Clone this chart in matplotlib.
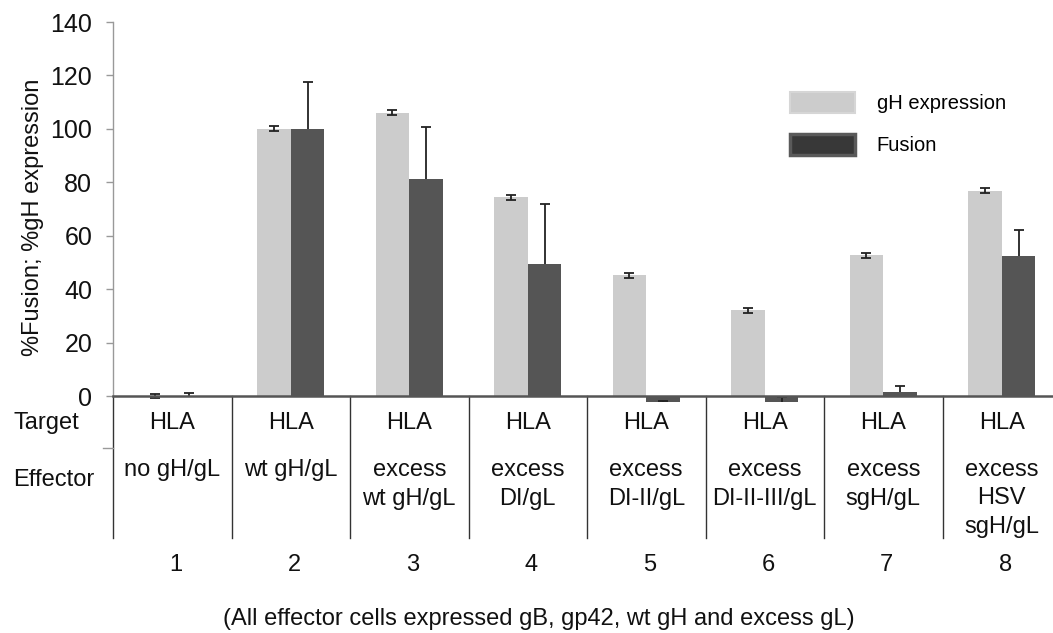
import matplotlib
matplotlib.use("Agg")
import matplotlib.pyplot as plt
import matplotlib.transforms as mtransforms
from matplotlib.patches import Patch
import numpy as np

plt.rcParams['font.family'] = ['Liberation Sans', 'DejaVu Sans']

# data
groups = ['1', '2', '3', '4', '5', '6', '7', '8']
targets = ['HLA'] * 8
effectors = [['no gH/gL'], ['wt gH/gL'], ['excess', 'wt gH/gL'], ['excess', 'DI/gL'],
             ['excess', 'DI-II/gL'], ['excess', 'DI-II-III/gL'], ['excess', 'sgH/gL'],
             ['excess', 'HSV', 'sgH/gL']]
gh_expr = [0.0, 100.1, 106.0, 74.4, 45.2, 32.1, 52.7, 76.8]
gh_err = [0.9, 0.9, 0.9, 1.0, 0.9, 0.9, 0.9, 0.9]
fusion = [0.0, 100.0, 81.1, 49.3, -2.4, -2.1, 1.4, 52.3]
fusion_err = [1.3, 17.6, 19.5, 22.5, 0.4, 1.7, 2.5, 9.7]

light = '#cccccc'
dark = '#555555'
ecol = '#222222'

fig = plt.figure(figsize=(10.53, 6.33), dpi=100)
# axes runs a little past the right edge, like the reference
ax = fig.add_axes([113 / 1053, 1 - 396 / 633, 948 / 1053, 374 / 633])

x = np.arange(len(groups)) + 0.5
w = 0.283
ax.bar(x - w / 2, gh_expr, w, color=light, clip_on=False, zorder=2)
ax.bar(x + w / 2, fusion, w, color=dark, clip_on=False, zorder=2)
ax.errorbar(x - w / 2, gh_expr, yerr=gh_err, fmt='none', ecolor=ecol,
            elinewidth=1.3, capsize=3.5, capthick=1.3, clip_on=False, zorder=3)
# fusion: plus-only error bars, cap at the top only
fusion_top = np.array(fusion) + np.array(fusion_err)
ax.vlines(x + w / 2, fusion, fusion_top, color=ecol, lw=1.3, zorder=3, clip_on=False)
ax.plot(x + w / 2, fusion_top, ls='none', marker='_', ms=7, mew=1.3, color=ecol,
        zorder=3, clip_on=False)

ax.set_xlim(0, 8)
ax.set_ylim(0, 140)
ax.set_yticks(range(0, 141, 20))
ax.set_xticks([])
ax.tick_params(axis='y', labelsize=18, length=5, color='#999999', width=1,
               labelcolor='#111111', pad=10)
for s in ['top', 'right']:
    ax.spines[s].set_visible(False)
ax.spines['left'].set_color('#999999')
ax.spines['left'].set_linewidth(1)
ax.spines['bottom'].set_color('#555555')
ax.spines['bottom'].set_linewidth(1.8)
ax.spines['bottom'].set_zorder(4)

fig.text(33 / 1053, 1 - 217 / 633, '%Fusion; %gH expression', rotation=90,
         ha='center', va='center', fontsize=17, color='#111111')

# table under the axis
trans = mtransforms.blended_transform_factory(ax.transData, ax.transAxes)
px = 1 / 374
for xi in range(len(groups) + 1):
    ax.plot([xi, xi], [0, -142 * px], color='#333333', lw=1, transform=trans,
            clip_on=False)
ax.plot([-10 / 118.5, 0], [-52 * px, -52 * px], color='#999999', lw=1,
        transform=trans, clip_on=False)

fs = 17
for i, xc in enumerate(x):
    ax.text(xc, -27 * px, targets[i], transform=trans, ha='center', va='center',
            fontsize=fs, color='#111111')
    for j, line in enumerate(effectors[i]):
        ax.text(xc, (-74 - 28.5 * j) * px, line, transform=trans, ha='center',
                va='center', fontsize=fs, color='#111111')
    ax.text(xc + 0.03, -169 * px, groups[i], transform=trans, ha='center',
            va='center', fontsize=fs, color='#111111')

fig.text(13 / 1053, 1 - 423 / 633, 'Target', ha='left', va='center', fontsize=fs,
         color='#111111')
fig.text(13 / 1053, 1 - 480 / 633, 'Effector', ha='left', va='center', fontsize=fs,
         color='#111111')
fig.text(539 / 1053, 1 - 619 / 633,
         '(All effector cells expressed gB, gp42, wt gH and excess gL)',
         ha='center', va='center', fontsize=fs, color='#111111')

handles = [Patch(facecolor=light, edgecolor='#d6d6d6', lw=1.5, label='gH expression'),
           Patch(facecolor='#383838', edgecolor='#5a5a5a', lw=2.5, label='Fusion')]
ax.legend(handles=handles, loc='upper left', bbox_to_anchor=(790 / 1053, 1 - 92 / 633),
          bbox_transform=fig.transFigure, frameon=False, fontsize=14.5,
          handlelength=3.25, handleheight=1.2, handletextpad=1.05,
          labelspacing=1.05, borderpad=0, borderaxespad=0)

fig.savefig('out.png', dpi=100)
